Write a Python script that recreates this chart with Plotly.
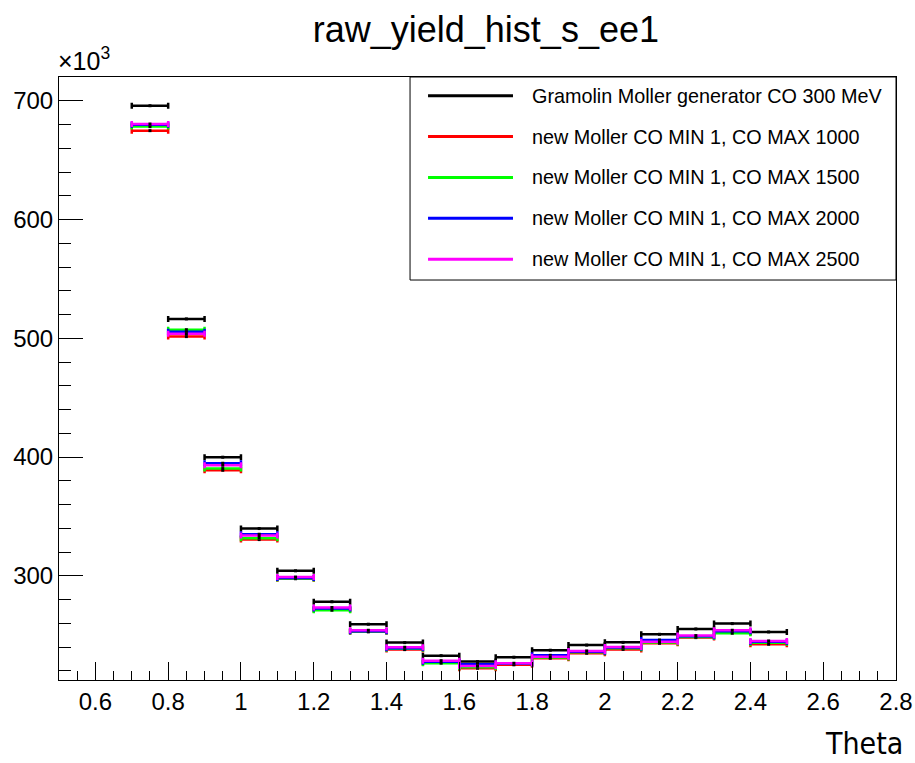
import plotly.graph_objects as go

# ---------------- data (yield values in units of 10^3) ----------------
bin_centers = [0.75, 0.85, 0.95, 1.05, 1.15, 1.25, 1.35, 1.45, 1.55,
               1.65, 1.75, 1.85, 1.95, 2.05, 2.15, 2.25, 2.35, 2.45]
bin_width = 0.1

gramolin_300 = [696.0, 516.4, 399.9, 339.8, 304.2, 278.1, 259.2, 243.7, 232.7,
                227.7, 231.4, 237.3, 241.6, 243.9, 250.7, 255.2, 259.7, 252.7]
new_max_1000 = [675.0, 501.5, 388.9, 330.5, 297.5, 271.5, 252.8, 237.8, 226.8,
                222.1, 225.0, 230.5, 234.7, 238.0, 243.1, 247.9, 252.1, 242.3]
new_max_1500 = [678.4, 507.3, 390.3, 331.7, 297.8, 271.0, 253.0, 238.5, 226.4,
                223.0, 225.8, 231.2, 235.5, 239.0, 243.8, 248.5, 251.6, 243.5]
new_max_2000 = [680.0, 505.6, 394.8, 335.0, 298.2, 272.5, 253.3, 239.0, 227.5,
                225.5, 226.0, 233.0, 236.0, 239.5, 245.9, 249.0, 253.3, 244.5]
new_max_2500 = [680.6, 504.0, 393.1, 333.9, 298.9, 273.3, 254.1, 239.8, 228.5,
                224.0, 226.3, 231.7, 236.7, 240.0, 244.5, 249.6, 254.1, 245.1]

series_names = ["Gramolin Moller generator CO 300 MeV",
                "new Moller CO MIN 1, CO MAX 1000",
                "new Moller CO MIN 1, CO MAX 1500",
                "new Moller CO MIN 1, CO MAX 2000",
                "new Moller CO MIN 1, CO MAX 2500"]
series_values = [gramolin_300, new_max_1000, new_max_1500, new_max_2000, new_max_2500]
series_colors = ["#000000", "#ff0000", "#00ff00", "#0000ff", "#ff00ff"]

title_text = "raw_yield_hist_s_ee1"
x_title = "Theta"
x_range = [0.5, 2.8]
y_range = [212.2, 720.2]

# ---------------- figure ----------------
fig = go.Figure()
for name, vals, col in zip(series_names, series_values, series_colors):
    fig.add_trace(go.Scatter(
        x=bin_centers, y=vals, mode="markers", name=name, showlegend=False,
        marker=dict(symbol="square", size=3, color="black"),
        error_x=dict(type="constant", value=bin_width / 2, color=col,
                     thickness=2.5, width=3),
    ))

font_main = "Liberation Sans, Arial, Helvetica, sans-serif"

fig.update_layout(
    width=915, height=763,
    margin=dict(l=59, r=19, t=77, b=83, autoexpand=False),
    paper_bgcolor="white", plot_bgcolor="white",
    font=dict(family=font_main, color="black"),
    showlegend=False,
    title=dict(text=title_text, x=0.531, xanchor="center", y=0.962, yanchor="middle",
               font=dict(size=36, family=font_main, color="black")),
)

fig.update_xaxes(
    range=x_range, showgrid=False, zeroline=False, automargin=False,
    showline=True, linecolor="black", linewidth=1, mirror=True,
    ticks="inside", ticklen=18, tickwidth=1, tickcolor="black",
    tick0=0, dtick=0.2,
    minor=dict(ticks="inside", ticklen=9, dtick=0.05, tick0=0, tickcolor="black", showgrid=False),
    tickfont=dict(size=24, family=font_main),
)
fig.update_yaxes(
    range=y_range, showgrid=False, zeroline=False, automargin=False,
    showline=True, linecolor="black", linewidth=1, mirror=True,
    ticks="inside", ticklen=24, tickwidth=1, tickcolor="black",
    tick0=0, dtick=100,
    minor=dict(ticks="inside", ticklen=12, dtick=20, tick0=0, tickcolor="black", showgrid=False),
    tickfont=dict(size=24, family=font_main),
)

# exponent label and axis title
fig.add_annotation(text="×10<sup>3</sup>", xref="paper", yref="paper",
                   x=-0.004, y=1.0, xanchor="left", yanchor="bottom", showarrow=False,
                   font=dict(size=25, family=font_main))
fig.add_annotation(text=x_title, xref="paper", yref="paper",
                   x=1.009, y=-0.106, xanchor="right", yanchor="middle", showarrow=False,
                   borderpad=0,
                   font=dict(size=30, family="DejaVu Sans Condensed, DejaVu Sans, sans-serif"))

# legend box (ROOT-style)
fig.add_shape(type="rect", xref="paper", yref="paper",
              x0=0.4194, x1=1.0, y0=0.6633, y1=1.0,
              line=dict(color="black", width=1), fillcolor="white", layer="above")
row_top, row_step = 0.9690, 0.0678
for i, (name, col) in enumerate(zip(series_names, series_colors)):
    yy = row_top - i * row_step
    fig.add_shape(type="line", xref="paper", yref="paper",
                  x0=0.4409, x1=0.5424, y0=yy, y1=yy,
                  line=dict(color=col, width=3), layer="above")
    fig.add_annotation(text=name, xref="paper", yref="paper",
                       x=0.5627, y=yy, xanchor="left", yanchor="middle", showarrow=False,
                       font=dict(size=19.8, family=font_main))

fig.write_html("out.html")
